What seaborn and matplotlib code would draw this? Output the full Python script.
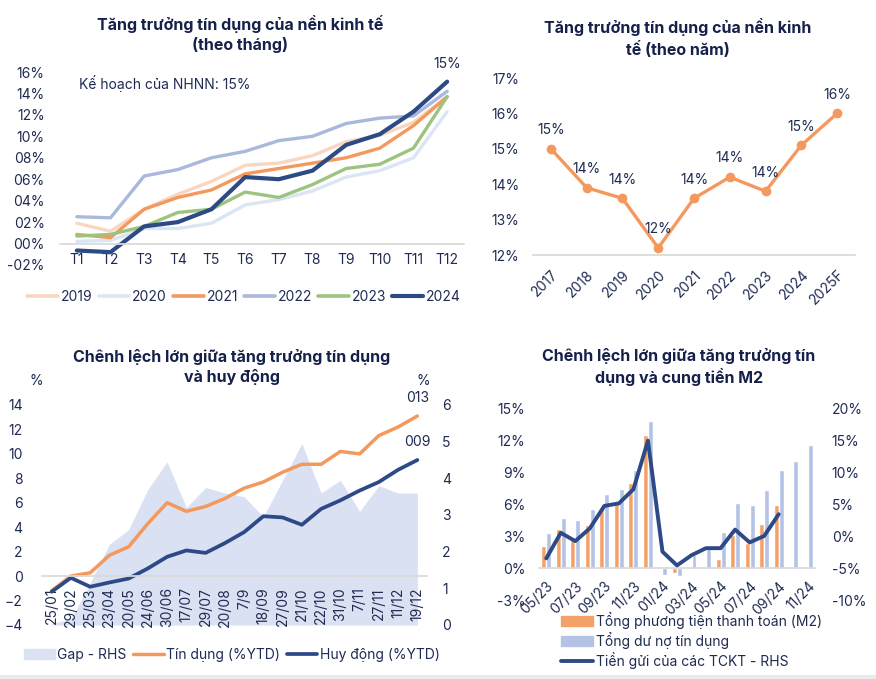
import numpy as np
import pandas as pd
import matplotlib
matplotlib.use('Agg')
import matplotlib.pyplot as plt
import seaborn as sns
from matplotlib.lines import Line2D
from matplotlib.patches import Patch, Rectangle

sns.set_theme(style='white')
plt.rcParams['font.family'] = ['Inter', 'DejaVu Sans']

W, H = 876, 679
TXT = '#1F2B52'
TTL = '#15214A'
GRID = '#D9D9D9'

# ---------------- Panel 1 data (monthly) ----------------
months = ['T1', 'T2', 'T3', 'T4', 'T5', 'T6', 'T7', 'T8', 'T9', 'T10', 'T11', 'T12']
y2019 = [1.9, 1.15, 3.2, 4.6, 5.8, 7.3, 7.5, 8.2, 9.5, 10.1, 11.3, 13.7]
y2020 = [0.2, 0.3, 1.4, 1.4, 1.9, 3.6, 4.1, 4.9, 6.2, 6.8, 8.0, 12.3]
y2021 = [0.85, 0.55, 3.2, 4.3, 5.0, 6.5, 7.0, 7.5, 8.0, 8.9, 11.0, 13.7]
y2022 = [2.5, 2.4, 6.3, 6.9, 8.0, 8.6, 9.6, 10.0, 11.2, 11.7, 11.9, 14.2]
y2023 = [0.7, 0.85, 1.6, 2.9, 3.2, 4.8, 4.3, 5.5, 7.0, 7.4, 8.9, 13.7]
y2024 = [-0.65, -0.8, 1.6, 2.0, 3.2, 6.2, 6.0, 6.8, 9.2, 10.2, 12.3, 15.1]
years = ['2019', '2020', '2021', '2022', '2023', '2024']
year_colors = ['#F9D6C0', '#DCE5F4', '#F4995E', '#A9B8DC', '#9DC47F', '#2C4A86']
p1_yticks = [-2, 0, 2, 4, 6, 8, 10, 12, 14, 16]
p1_yticklabels = ['-02%', '00%', '02%', '04%', '06%', '08%', '10%', '12%', '14%', '16%']
plan_note = 'Kế hoạch của NHNN: 15%'
end_label_2024 = '15%'

# ---------------- Panel 2 data (yearly) ----------------
yr_labels = ['2017', '2018', '2019', '2020', '2021', '2022', '2023', '2024', '2025F']
yr_values = [15.0, 13.9, 13.6, 12.2, 13.6, 14.2, 13.8, 15.1, 16.0]
yr_text = ['15%', '14%', '14%', '12%', '14%', '14%', '14%', '15%', '16%']

# ---------------- Panel 3 data ----------------
dates = ['25/01', '29/02', '25/03', '23/04', '20/05', '24/06', '30/06', '17/07', '29/07', '20/08',
         '7/9', '18/09', '27/09', '21/10', '22/10', '31/10', '7/11', '27/11', '11/12', '19/12']
credit = [-1.2, 0.0, 0.27, 1.7, 2.4, 4.3, 6.0, 5.3, 5.7, 6.35,
          7.2, 7.7, 8.5, 9.15, 9.15, 10.2, 10.0, 11.5, 12.2, 13.1]
deposit = [-1.28, -0.14, -0.87, -0.52, -0.2, 0.63, 1.58, 2.1, 1.9, 2.7,
           3.6, 4.9, 4.8, 4.2, 5.5, 6.2, 7.0, 7.7, 8.7, 9.5]
gap = [0.05, 0.15, 1.15, 2.2, 2.6, 3.7, 4.45, 3.2, 3.75, 3.6,
       3.5, 2.95, 3.95, 4.95, 3.6, 3.95, 3.1, 3.8, 3.6, 3.6]
p3_end_labels = ['013', '009']

# ---------------- Panel 4 data ----------------
mlabels = ['05/23', '06/23', '07/23', '08/23', '09/23', '10/23', '11/23', '12/23', '01/24', '02/24',
           '03/24', '04/24', '05/24', '06/24', '07/24', '08/24', '09/24', '10/24', '11/24']
m2 = [2.05, 3.7, 2.8, 4.0, 5.5, 6.1, 7.95, 12.5, 0.0, -0.5,
      0.02, 0.06, 0.8, 3.1, 2.3, 4.1, 5.9, np.nan, np.nan]
loans = [3.25, 4.7, 4.5, 5.55, 6.95, 7.4, 9.15, 13.8, -0.66, -0.72,
         1.2, 1.8, 3.4, 6.05, 5.9, 7.3, 9.15, 10.05, 11.5]
deposits_tckt = [-3.5, 0.5, -0.8, 1.2, 4.7, 5.1, 7.3, 14.9, -2.45, -4.6,
                 -3.0, -1.9, -1.9, 1.0, -1.0, 0.0, 3.4]
p4_series = ['Tổng phương tiện thanh toán (M2)', 'Tổng dư nợ tín dụng']
p4_line_name = 'Tiền gửi của các TCKT - RHS'

ORANGE = '#F4995E'
BAR_OR = '#F4A169'
BAR_BL = '#B4C3E5'
NAVY = '#2D4A87'
GAPC = '#D9E1F2'

fig = plt.figure(figsize=(W / 100, H / 100), dpi=100)
fig.patch.set_facecolor('white')


def rect(l, t, r, b):
    return [l / W, 1 - b / H, (r - l) / W, (b - t) / H]


def clean(ax):
    for s in ax.spines.values():
        s.set_visible(False)
    ax.tick_params(length=0, colors=TXT, labelsize=10)
    ax.set_xlabel('')
    ax.set_ylabel('')
    ax.grid(False)


def ftext(x, y, s, **kw):
    fig.text(x / W, 1 - y / H, s, **kw)

# ---------------- Panel 1 ----------------
ax1 = fig.add_axes(rect(60, 72, 464, 265))
idx1 = np.arange(len(months))
series1 = [y2019, y2020, y2021, y2022, y2023, y2024]
for vals, c, yr in zip(series1, year_colors, years):
    sns.lineplot(x=idx1, y=vals, color=c, lw=3.0 if yr == '2024' else 2.4, ax=ax1)
clean(ax1)
ax1.set_xlim(-0.5, 11.5)
ax1.set_ylim(-2, 16)
ax1.set_yticks(p1_yticks)
ax1.set_yticklabels(p1_yticklabels)
ax1.set_xticks(idx1)
ax1.set_xticklabels(months)
ax1.spines['bottom'].set_visible(True)
ax1.spines['bottom'].set_position(('data', 0))
ax1.spines['bottom'].set_color(GRID)
ax1.tick_params(axis='y', pad=11)
ax1.tick_params(axis='x', pad=7)
ax1.text(0.05, 14.9, plan_note, color=TXT, fontsize=10, va='center', ha='left')
ax1.annotate(end_label_2024, (11, y2024[-1]), xytext=(0, 13), textcoords='offset points',
             ha='center', va='center', color=TXT, fontsize=10)
h1 = [Line2D([], [], color=c, lw=3.0 if yr == '2024' else 2.6) for c, yr in zip(year_colors, years)]
fig.legend(h1, years, loc='center', bbox_to_anchor=(244 / W, 1 - 297 / H), ncol=6, frameon=False,
           fontsize=10, handlelength=2.2, handletextpad=0.2, columnspacing=0.45, labelcolor=TXT)
ftext(240, 34, 'Tăng trưởng tín dụng của nền kinh tế\n(theo tháng)', ha='center', va='center',
      fontsize=11.5, fontweight='bold', color=TTL, linespacing=1.3)

# ---------------- Panel 2 ----------------
ax2 = fig.add_axes(rect(533, 78, 855, 255))
idx2 = np.arange(len(yr_labels))
sns.lineplot(x=idx2, y=yr_values, color=ORANGE, lw=2.4, marker='o', markersize=7,
             markeredgewidth=0, ax=ax2)
clean(ax2)
ax2.set_xlim(-0.5, 8.5)
ax2.set_ylim(12, 17)
ax2.set_yticks([12, 13, 14, 15, 16, 17])
ax2.set_yticklabels([f'{v}%' for v in [12, 13, 14, 15, 16, 17]])
ax2.set_xticks(idx2)
ax2.set_xticklabels(yr_labels, rotation=45, ha='right', rotation_mode='anchor')
ax2.spines['bottom'].set_visible(True)
ax2.spines['bottom'].set_color(GRID)
ax2.tick_params(axis='y', pad=10)
ax2.tick_params(axis='x', pad=9)
for i, (v, t) in enumerate(zip(yr_values, yr_text)):
    ax2.annotate(t, (i, v), xytext=(0, 13.5), textcoords='offset points', ha='center', va='center',
                 color=TXT, fontsize=10)
ftext(678, 38, 'Tăng trưởng tín dụng của nền kinh\ntế (theo năm)', ha='center', va='center',
      fontsize=11.5, fontweight='bold', color=TTL, linespacing=1.3)

# ---------------- Panel 3 ----------------
ax3 = fig.add_axes(rect(42, 405, 427, 625))
ax3r = ax3.twinx()
idx3 = np.arange(len(dates))
ax3r.fill_between(idx3, 0, gap, color=GAPC, lw=0)
sns.lineplot(x=idx3, y=credit, color=ORANGE, lw=2.5, ax=ax3)
sns.lineplot(x=idx3, y=deposit, color=NAVY, lw=2.7, ax=ax3)
ax3.set_zorder(ax3r.get_zorder() + 1)
ax3.patch.set_visible(False)
for a in (ax3, ax3r):
    clean(a)
ax3.set_xlim(-0.5, len(dates) - 0.5)
ax3.set_ylim(-4, 14)
ax3r.set_ylim(0, 6)
ax3.set_yticks(range(-4, 15, 2))
ax3r.set_yticks(range(0, 7))
ax3.set_xticks(idx3)
ax3.spines['bottom'].set_visible(True)
ax3.spines['bottom'].set_position(('data', 0))
ax3.spines['bottom'].set_color(GRID)
ax3.tick_params(axis='y', pad=14)
ax3.tick_params(axis='x', pad=8, labelrotation=90)
ax3.set_xticklabels(dates, rotation=90, ha='center', va='top')
ax3r.tick_params(axis='y', pad=11)
ax3r.tick_params(axis='x', labelbottom=False, labeltop=False)
ax3r.xaxis.set_visible(False)
ax3.annotate(p3_end_labels[0], (idx3[-1], credit[-1]), xytext=(0, 13), textcoords='offset points',
             ha='center', va='center', color=TXT, fontsize=10)
ax3.annotate(p3_end_labels[1], (idx3[-1], deposit[-1]), xytext=(0, 13), textcoords='offset points',
             ha='center', va='center', color=TXT, fontsize=10)
ftext(36, 381, '%', ha='center', va='center', fontsize=10, color=TXT)
ftext(423, 381, '%', ha='center', va='center', fontsize=10, color=TXT)
h3 = [Patch(color=GAPC), Line2D([], [], color=ORANGE, lw=2.5), Line2D([], [], color=NAVY, lw=2.7)]
fig.legend(h3, ['Gap - RHS', 'Tín dụng (%YTD)', 'Huy động (%YTD)'], loc='center',
           bbox_to_anchor=(232 / W, 1 - 655 / H), ncol=3, frameon=False, fontsize=10,
           handlelength=2.2, handletextpad=0.2, columnspacing=0.45, labelcolor=TXT)
ftext(232, 367, 'Chênh lệch lớn giữa tăng trưởng tín dụng\nvà huy động', ha='center', va='center',
      fontsize=11.5, fontweight='bold', color=TTL, linespacing=1.3)

# ---------------- Panel 4 ----------------
ax4 = fig.add_axes(rect(539, 408, 815, 600))
ax4r = ax4.twinx()
n4 = len(mlabels)
df4 = pd.DataFrame({
    'pos': list(range(n4)) * 2,
    'value': list(m2) + list(loans),
    'series': [p4_series[0]] * n4 + [p4_series[1]] * n4,
})
sns.barplot(data=df4, x='pos', y='value', hue='series', hue_order=p4_series,
            palette=[BAR_OR, BAR_BL], width=0.68, gap=0, dodge=True, ax=ax4,
            order=list(range(n4)), legend=False, saturation=1)
sns.lineplot(x=np.arange(len(deposits_tckt)), y=deposits_tckt, color=NAVY, lw=2.8, ax=ax4r)
for a in (ax4, ax4r):
    clean(a)
ax4.set_xlim(-0.5, n4 - 0.5)
ax4.set_ylim(-3, 15)
ax4r.set_ylim(-10, 20)
ax4.set_yticks(range(-3, 16, 3))
ax4.set_yticklabels([f'{v}%' for v in range(-3, 16, 3)])
ax4r.set_yticks(range(-10, 21, 5))
ax4r.set_yticklabels([f'{v}%' for v in range(-10, 21, 5)])
ax4.set_xticks(range(0, n4, 2))
ax4.spines['bottom'].set_visible(True)
ax4.spines['bottom'].set_position(('data', 0))
ax4.spines['bottom'].set_color(GRID)
ax4.tick_params(axis='y', pad=10)
ax4.tick_params(axis='x', pad=8)
ax4.set_xticklabels(mlabels[::2], rotation=45, ha='right', va='top', rotation_mode='anchor')
ax4r.tick_params(axis='y', pad=12)
ax4r.tick_params(axis='x', labelbottom=False, labeltop=False)
ax4r.xaxis.set_visible(False)
h4 = [Patch(color=BAR_OR), Patch(color=BAR_BL), Line2D([], [], color=NAVY, lw=2.8)]
fig.legend(h4, p4_series + [p4_line_name], loc='upper left',
           bbox_to_anchor=(561 / W, 1 - 612 / H), ncol=1, frameon=False, fontsize=10,
           handlelength=2.3, handletextpad=0.2, labelspacing=0.22, borderpad=0, borderaxespad=0,
           labelcolor=TXT)
ftext(679, 367, 'Chênh lệch lớn giữa tăng trưởng tín\ndụng và cung tiền M2', ha='center', va='center',
      fontsize=11.5, fontweight='bold', color=TTL, linespacing=1.3)

fig.add_artist(Rectangle((0, 0), 1, 4 / H, transform=fig.transFigure, color='#EBEBEB', lw=0))

fig.savefig('out.png', dpi=100, facecolor='white')
